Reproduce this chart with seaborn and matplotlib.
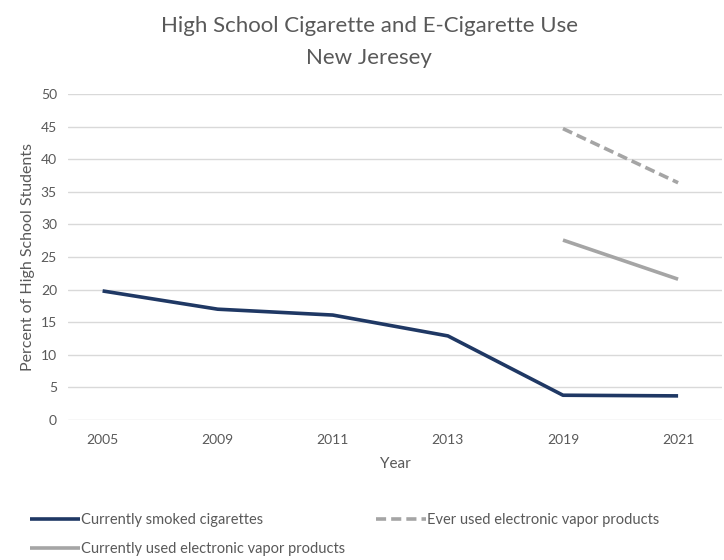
import matplotlib
matplotlib.use("Agg")
import matplotlib.pyplot as plt
import seaborn as sns
import pandas as pd
import numpy as np

years = ["2005", "2009", "2011", "2013", "2019", "2021"]
smoked = [19.8, 17.0, 16.1, 12.9, 3.8, 3.7]
ever_vapor = [np.nan, np.nan, np.nan, np.nan, 44.7, 36.4]
current_vapor = [np.nan, np.nan, np.nan, np.nan, 27.6, 21.6]
series_names = ["Currently smoked cigarettes",
                "Currently used electronic vapor products",
                "Ever used electronic vapor products"]

sns.set_style("white")
plt.rcParams['font.family'] = ['Lato', 'DejaVu Sans']

fig = plt.figure(figsize=(7.24, 5.6), dpi=100)
ax = fig.add_axes([0.094, 0.25, 0.903, 0.582])

pos = list(range(len(years)))
df = pd.DataFrame({"pos": pos * 3,
                   "value": smoked + current_vapor + ever_vapor,
                   "series": [series_names[0]] * 6 + [series_names[1]] * 6 + [series_names[2]] * 6})
df = df.dropna()

styles = {
    series_names[0]: dict(color="#1F3864", linestyle="-"),
    series_names[1]: dict(color="#A5A5A5", linestyle="-"),
    series_names[2]: dict(color="#A5A5A5", linestyle=(0, (2.8, 1.4))),
}
for name in series_names:
    sub = df[df["series"] == name]
    sns.lineplot(data=sub, x="pos", y="value", ax=ax, label=name,
                 linewidth=2.6, solid_capstyle="butt", **styles[name])

ax.set_xlim(-0.3, 5.38)
ax.set_ylim(0, 50)
ax.set_yticks(range(0, 51, 5))
ax.set_xticks(pos)
ax.set_xticklabels(years)
ax.grid(axis="y", color="#D9D9D9", linewidth=1)
ax.set_axisbelow(True)
for s in ax.spines.values():
    s.set_visible(False)
ax.tick_params(axis="x", length=0, labelsize=10, labelcolor="#595959", pad=10)
ax.tick_params(axis="y", length=0, labelsize=10, labelcolor="#595959", pad=8)
ax.set_xlabel("Year", fontsize=11, color="#595959", labelpad=8)
ax.set_ylabel("Percent of High School Students", fontsize=11.5, color="#595959", labelpad=4)

fig.text(0.51, 0.953, "High School Cigarette and E-Cigarette Use", ha="center", va="center",
         fontsize=16, color="#595959")
fig.text(0.51, 0.897, "New Jeresey", ha="center", va="center", fontsize=16, color="#595959")

leg = ax.legend(loc="upper left", bbox_to_anchor=(-0.078, -0.245), ncol=2, frameon=False,
                fontsize=10.5, handlelength=3.4, handletextpad=0.1, columnspacing=2.1,
                labelspacing=1.05)
for t in leg.get_texts():
    t.set_color("#595959")

fig.savefig("out.png", dpi=100)
